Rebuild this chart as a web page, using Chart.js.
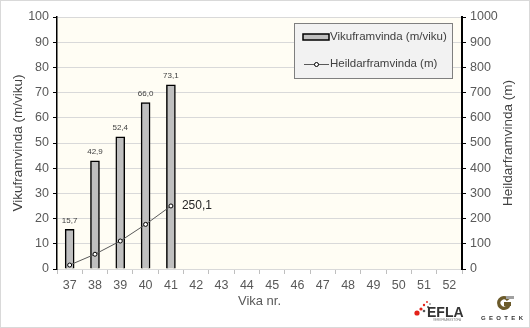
<!DOCTYPE html>
<html>
<head>
<meta charset="utf-8">
<script src="https://cdn.jsdelivr.net/npm/chart.js@4"></script>
<style>
  html, body { margin: 0; padding: 0; background: #fff; }
  #wrap { width: 530px; height: 328px; }
</style>
</head>
<body>
<div id="wrap"><canvas id="chart" width="530" height="328"></canvas></div>
<script>
// Vikur á x-ás
const weeks = ['37', '38', '39', '40', '41', '42', '43', '44', '45', '46', '47', '48', '49', '50', '51', '52'];
// Framvinda á viku (m/viku)
const weekly = [15.7, 42.9, 52.4, 66.0, 73.1];
// Uppsöfnuð framvinda (m)
const total = [15.7, 58.6, 111.0, 177.0, 250.1];

const FONT = "'Liberation Sans', Arial, sans-serif";
const fmt = v => v.toFixed(1).replace('.', ',');
const rightTitle = 'Heildarframvinda (m)';

const decor = {
  id: 'decor',
  beforeDraw(chart) {
    const { ctx, chartArea: a } = chart;
    ctx.save();
    ctx.fillStyle = '#FFFDF4';
    ctx.fillRect(a.left, a.top, a.right - a.left, a.bottom - a.top);
    ctx.restore();
  },
  afterDraw(chart) {
    const { ctx, chartArea: a } = chart;
    ctx.save();

    // ramminn utan um allt
    ctx.strokeStyle = '#D9D9D9';
    ctx.lineWidth = 1;
    ctx.strokeRect(0.5, 0.5, chart.width - 1, chart.height - 1);

    // titill hægri áss, lesinn neðan frá og upp
    ctx.save();
    ctx.translate(508, (a.top + a.bottom) / 2);
    ctx.rotate(-Math.PI / 2);
    ctx.font = '13.5px ' + FONT;
    ctx.fillStyle = '#404040';
    ctx.textAlign = 'center';
    ctx.textBaseline = 'middle';
    ctx.fillText(rightTitle, 0, 0);
    ctx.restore();

    // gildi yfir súlum
    const bars = chart.getDatasetMeta(0).data;
    ctx.font = '8px ' + FONT;
    ctx.fillStyle = '#404040';
    ctx.textAlign = 'center';
    ctx.textBaseline = 'bottom';
    bars.forEach((b, i) => ctx.fillText(fmt(weekly[i]), b.x, b.y - 5));

    // síðasta gildi línunnar
    const pts = chart.getDatasetMeta(1).data;
    const last = pts[pts.length - 1];
    ctx.font = '12px ' + FONT;
    ctx.fillStyle = '#262626';
    ctx.textAlign = 'left';
    ctx.textBaseline = 'middle';
    ctx.fillText(fmt(total[total.length - 1]), last.x + 11, last.y);

    // skýringar
    const lx = 294, ly = 23, lw = 158, lh = 55;
    ctx.fillStyle = '#F2F2F2';
    ctx.fillRect(lx, ly, lw, lh);
    ctx.strokeStyle = '#7F7F7F';
    ctx.lineWidth = 1;
    ctx.strokeRect(lx + 0.5, ly + 0.5, lw, lh);
    const ds = chart.data.datasets;
    ctx.fillStyle = '#BFBFBF';
    ctx.fillRect(303, 34, 26, 6);
    ctx.strokeStyle = '#000';
    ctx.lineWidth = 1.5;
    ctx.strokeRect(303, 34, 26, 6);
    ctx.strokeStyle = '#595959';
    ctx.lineWidth = 1;
    ctx.beginPath();
    ctx.moveTo(304, 64.5);
    ctx.lineTo(329, 64.5);
    ctx.stroke();
    ctx.beginPath();
    ctx.arc(316.5, 64.5, 2, 0, Math.PI * 2);
    ctx.fillStyle = '#fff';
    ctx.fill();
    ctx.strokeStyle = '#000';
    ctx.stroke();
    ctx.font = '11.5px ' + FONT;
    ctx.fillStyle = '#404040';
    ctx.textAlign = 'left';
    ctx.textBaseline = 'middle';
    ctx.fillText(ds[0].label, 330, 37);
    ctx.fillText(ds[1].label, 330, 64);

    // EFLA merki
    ctx.fillStyle = '#E32119';
    [[417, 313, 2.6], [421, 309, 1.6], [424, 305, 1.2], [427, 302, 0.9]].forEach(([x, y, r]) => {
      ctx.beginPath(); ctx.arc(x, y, r, 0, Math.PI * 2); ctx.fill();
    });
    ctx.fillStyle = '#595959';
    [[424, 311, 1.3], [428, 307, 1.0], [430, 304, 0.8]].forEach(([x, y, r]) => {
      ctx.beginPath(); ctx.arc(x, y, r, 0, Math.PI * 2); ctx.fill();
    });
    ctx.font = 'bold 14px ' + FONT;
    ctx.fillStyle = '#333';
    ctx.textBaseline = 'alphabetic';
    ctx.fillText('EFLA', 427, 317);
    ctx.font = '3px ' + FONT;
    ctx.fillStyle = '#777';
    ctx.fillText('VERKFRÆÐISTOFA', 433, 321);

    // GEOTEK merki
    ctx.fillStyle = '#6B5A2A';
    ctx.beginPath();
    ctx.arc(504, 303, 7, 0.1 * Math.PI, 1.8 * Math.PI);
    ctx.arc(504, 303, 3.5, 1.8 * Math.PI, 0.1 * Math.PI, true);
    ctx.closePath();
    ctx.fill();
    ctx.fillRect(504, 302, 7, 4);
    ctx.fillStyle = '#A0A0A0';
    ctx.fillRect(506, 296, 8, 3);
    ctx.font = 'bold 6px ' + FONT;
    ctx.fillStyle = '#333';
    ctx.textAlign = 'center';
    ctx.fillText('G  E  O  T  E  K', 502, 320);

    ctx.restore();
  }
};

new Chart(document.getElementById('chart'), {
  type: 'bar',
  data: {
    labels: weeks,
    datasets: [
      {
        type: 'bar',
        label: 'Vikuframvinda (m/viku)',
        data: weekly,
        yAxisID: 'y',
        backgroundColor: '#BFBFBF',
        borderColor: '#000',
        borderWidth: 1.5,
        barThickness: 9,
        order: 2
      },
      {
        type: 'line',
        label: rightTitle,
        data: total,
        yAxisID: 'y1',
        borderColor: '#595959',
        borderWidth: 1,
        pointRadius: 2,
        pointBackgroundColor: '#fff',
        pointBorderColor: '#000',
        pointBorderWidth: 1,
        tension: 0,
        order: 1
      }
    ]
  },
  options: {
    responsive: false,
    animation: false,
    layout: { padding: { left: 4, right: 4, top: 17, bottom: 4 } },
    plugins: { legend: { display: false }, tooltip: { enabled: false } },
    scales: {
      x: {
        offset: true,
        grid: { offset: true, drawOnChartArea: false, tickLength: 5, color: '#BFBFBF' },
        border: { color: '#D9D9D9', width: 1 },
        ticks: { color: '#595959', font: { family: FONT, size: 12.5 }, padding: 4 },
        title: { display: true, text: 'Vika nr.', color: '#595959', font: { family: FONT, size: 13 }, padding: { top: 4, bottom: 15 } },
        afterFit(s) { s.height = 55; }
      },
      y: {
        position: 'left',
        min: 0, max: 100,
        ticks: { stepSize: 10, color: '#595959', font: { family: FONT, size: 12.5 }, padding: 4 },
        grid: { color: '#D9D9D9', tickColor: '#000', tickLength: 4 },
        border: { color: '#000', width: 1.5 },
        title: { display: true, text: 'Vikuframvinda (m/viku)', color: '#404040', font: { family: FONT, size: 13.5 }, padding: { top: 6, bottom: 0 } },
        afterFit(s) { s.width = 53; }
      },
      y1: {
        position: 'right',
        min: 0, max: 1000,
        ticks: { stepSize: 100, color: '#595959', font: { family: FONT, size: 12.5 }, padding: 4, callback: v => String(v) },
        grid: { drawOnChartArea: false, tickColor: '#000', tickLength: 4 },
        border: { color: '#000', width: 2 },
        afterFit(s) { s.width = 64; }
      }
    }
  },
  plugins: [decor]
});
</script>
</body>
</html>
